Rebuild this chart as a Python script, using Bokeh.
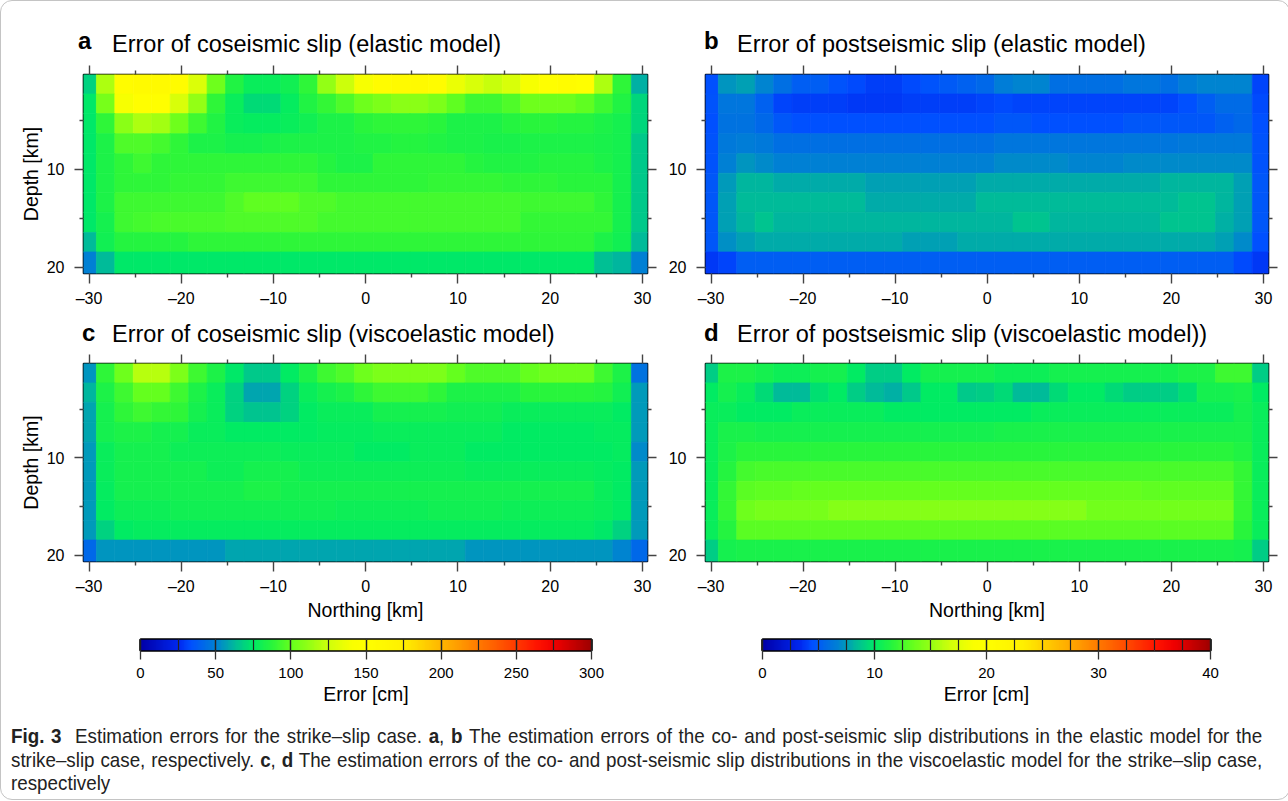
import numpy as np
from bokeh.plotting import figure
from bokeh.models import (Range1d, LinearColorMapper, FixedTicker, LinearAxis, Div, ColumnDataSource,
                          CustomLabelingPolicy)
from bokeh.layouts import column, row
from bokeh.embed import file_html
from bokeh.resources import INLINE

# ---------------- data ----------------
north_km = [-30.2, -28.2, -26.2, -24.2, -22.2, -20.2, -18.2, -16.2, -14.2, -12.2, -10.2, -8.2, -6.2, -4.2,
            -2.2, -0.2, 1.8, 3.8, 5.8, 7.8, 9.8, 11.8, 13.8, 15.8, 17.8, 19.8, 21.8, 23.8, 25.8, 27.8, 29.8]
depth_edges_km = [0.3, 2.3, 4.3, 6.35, 8.4, 10.4, 12.4, 14.4, 16.45, 18.45, 20.65]
cell_km = 2.0
x_ticks = [-30, -20, -10, 0, 10, 20, 30]
x_minor = [-25, -15, -5, 5, 15, 25]
x_tick_labels = {-30: "\u201330", -20: "\u201320", -10: "\u201310", 0: "0", 10: "10", 20: "20", 30: "30"}
y_ticks = [10, 20]
y_minor = [5, 15]
cb_co_ticks = [0, 50, 100, 150, 200, 250, 300]
cb_co_bounds = [0, 25, 50, 75, 100, 125, 150, 175, 200, 225, 250, 275, 300]
cb_post_ticks = [0, 10, 20, 30, 40]
cb_post_bounds = [0, 2.5, 5, 7.5, 10, 12.5, 15, 17.5, 20, 22.5, 25, 27.5, 30, 32.5, 35, 37.5, 40]

# (a) coseismic, elastic [cm]
err_a = [
    [68, 118, 155, 158, 158, 155, 130, 102, 85, 78, 78, 80, 88, 112, 125, 140, 155, 158, 158, 155, 135, 128, 124, 128, 140, 152, 155, 152, 118, 88, 60],
    [74, 105, 140, 152, 152, 128, 112, 88, 78, 71, 71, 77, 85, 90, 96, 102, 106, 110, 110, 106, 99, 92, 92, 96, 102, 102, 102, 99, 92, 85, 70],
    [74, 88, 110, 118, 116, 102, 92, 85, 78, 77, 77, 78, 80, 84, 84, 87, 88, 88, 88, 87, 84, 84, 84, 86, 87, 87, 86, 86, 84, 81, 70],
    [74, 84, 96, 96, 93, 88, 84, 84, 82, 82, 83, 84, 84, 84, 84, 85, 85, 86, 86, 85, 84, 84, 83, 83, 84, 84, 84, 84, 83, 81, 66],
    [74, 84, 88, 92, 88, 88, 88, 88, 88, 88, 88, 88, 88, 86, 84, 84, 88, 88, 88, 88, 88, 86, 85, 85, 85, 86, 86, 86, 84, 81, 66],
    [74, 84, 88, 88, 88, 90, 90, 90, 92, 92, 92, 92, 92, 88, 88, 88, 88, 88, 88, 90, 90, 90, 90, 88, 88, 88, 87, 87, 87, 81, 66],
    [74, 84, 92, 92, 92, 92, 92, 92, 95, 99, 99, 99, 95, 95, 93, 93, 93, 93, 93, 93, 93, 93, 93, 93, 92, 92, 92, 92, 88, 81, 66],
    [74, 82, 92, 93, 94, 94, 94, 94, 96, 96, 96, 96, 96, 93, 93, 93, 93, 93, 93, 93, 93, 93, 93, 93, 90, 90, 90, 90, 90, 81, 66],
    [63, 80, 86, 86, 86, 86, 88, 88, 88, 88, 88, 88, 88, 88, 88, 88, 88, 88, 88, 88, 88, 88, 88, 88, 88, 88, 88, 88, 84, 80, 63],
    [50, 63, 74, 74, 74, 74, 74, 74, 74, 74, 74, 74, 74, 74, 74, 74, 74, 74, 74, 74, 74, 74, 74, 74, 74, 74, 74, 74, 64, 62, 50],
]
# (b) postseismic, elastic [cm]
err_b = [
    [4.4, 7.2, 7.6, 6.8, 5.8, 5.0, 5.0, 4.6, 4.3, 4.0, 4.0, 4.3, 4.6, 4.9, 5.3, 5.6, 6.5, 6.8, 6.8, 5.8, 5.8, 5.8, 5.8, 6.1, 6.1, 5.8, 6.5, 6.8, 6.8, 6.8, 4.2],
    [4.6, 6.1, 6.1, 5.3, 4.1, 4.0, 4.0, 4.0, 3.9, 3.8, 3.8, 4.0, 4.0, 4.0, 4.0, 4.1, 4.3, 4.2, 4.2, 4.2, 4.2, 4.2, 4.2, 4.2, 4.2, 4.2, 4.4, 5.1, 5.7, 5.7, 4.3],
    [4.5, 6.0, 6.0, 5.6, 4.7, 4.5, 4.5, 4.5, 4.5, 4.5, 4.5, 4.5, 4.5, 4.5, 4.5, 4.5, 4.7, 4.7, 4.5, 4.5, 4.5, 4.5, 4.5, 4.7, 4.7, 4.7, 4.7, 4.7, 5.2, 5.6, 4.4],
    [4.6, 6.3, 6.5, 6.3, 5.8, 5.8, 5.8, 5.8, 5.8, 5.8, 5.8, 5.8, 5.8, 5.8, 5.8, 5.8, 6.1, 6.1, 6.1, 6.1, 6.1, 6.1, 6.1, 6.1, 6.1, 6.1, 6.3, 6.3, 6.3, 6.3, 4.6],
    [4.6, 6.7, 7.3, 7.0, 6.7, 6.7, 6.7, 6.7, 6.7, 6.7, 6.7, 6.7, 6.7, 6.7, 6.7, 6.7, 7.0, 7.0, 7.0, 7.0, 6.8, 6.8, 6.8, 7.0, 7.0, 7.0, 7.0, 7.0, 7.0, 7.0, 4.6],
    [4.8, 7.4, 8.2, 8.2, 7.9, 7.9, 7.9, 7.9, 7.9, 7.5, 7.5, 7.5, 7.5, 7.5, 7.5, 7.9, 7.9, 7.9, 7.9, 7.9, 7.9, 7.9, 7.9, 7.9, 7.9, 8.2, 8.2, 8.2, 8.2, 7.5, 4.8],
    [4.8, 7.5, 8.4, 8.4, 8.4, 8.4, 8.4, 8.4, 8.4, 7.9, 7.9, 7.9, 7.9, 7.9, 7.9, 8.4, 8.4, 8.4, 8.4, 8.4, 8.4, 8.4, 8.4, 8.4, 8.4, 8.4, 8.6, 8.6, 8.2, 7.5, 4.8],
    [4.8, 7.5, 8.2, 8.7, 8.2, 8.2, 8.2, 8.2, 8.2, 8.2, 8.2, 8.2, 8.2, 8.2, 8.2, 8.2, 8.2, 8.7, 8.7, 8.2, 8.2, 8.2, 8.2, 8.2, 8.2, 8.6, 8.6, 8.6, 8.0, 7.5, 4.8],
    [4.8, 7.1, 7.5, 7.9, 7.9, 7.9, 7.9, 7.9, 7.9, 7.9, 7.9, 7.5, 7.5, 7.5, 7.9, 7.9, 7.9, 7.9, 7.9, 7.9, 7.9, 7.9, 7.9, 7.9, 7.9, 7.9, 7.9, 7.9, 7.5, 6.9, 4.5],
    [3.8, 4.2, 5.1, 5.1, 5.1, 5.1, 5.1, 5.1, 5.1, 5.1, 5.1, 5.1, 5.1, 5.1, 5.1, 5.1, 5.1, 5.1, 5.1, 5.1, 5.1, 5.1, 5.1, 5.1, 5.1, 5.1, 5.1, 5.1, 5.0, 4.3, 3.8],
]
# (c) coseismic, viscoelastic [cm]
err_c = [
    [54, 88, 103, 120, 120, 106, 92, 84, 74, 66, 66, 76, 84, 92, 96, 103, 106, 106, 106, 106, 100, 96, 96, 96, 100, 103, 103, 103, 92, 84, 45],
    [62, 84, 92, 100, 100, 92, 84, 78, 69, 58, 58, 69, 78, 81, 84, 88, 92, 92, 92, 88, 84, 84, 84, 84, 87, 87, 87, 87, 86, 80, 56],
    [58, 81, 88, 92, 90, 88, 82, 78, 68, 65, 65, 68, 75, 78, 78, 78, 81, 81, 81, 81, 80, 80, 80, 78, 78, 78, 78, 78, 78, 76, 56],
    [58, 81, 84, 84, 82, 81, 78, 78, 76, 76, 76, 76, 76, 77, 77, 77, 78, 78, 78, 78, 78, 78, 78, 76, 76, 76, 76, 76, 77, 77, 56],
    [56, 78, 81, 81, 81, 79, 79, 79, 79, 79, 79, 78, 78, 78, 78, 76, 76, 76, 78, 78, 78, 75, 75, 75, 75, 75, 75, 75, 75, 77, 52],
    [56, 78, 81, 81, 82, 82, 82, 79, 79, 82, 82, 82, 79, 79, 79, 79, 79, 79, 79, 79, 79, 78, 78, 78, 78, 78, 78, 78, 77, 75, 56],
    [56, 77, 81, 81, 81, 81, 81, 81, 82, 84, 84, 82, 82, 82, 81, 81, 81, 81, 81, 82, 82, 82, 81, 81, 81, 81, 81, 81, 78, 75, 56],
    [56, 76, 79, 79, 79, 80, 80, 80, 80, 80, 80, 80, 80, 80, 79, 79, 79, 79, 79, 80, 80, 80, 80, 79, 79, 79, 79, 79, 78, 75, 56],
    [56, 68, 75, 77, 77, 77, 77, 77, 77, 77, 77, 77, 77, 77, 77, 77, 77, 77, 77, 77, 77, 77, 77, 77, 77, 77, 77, 77, 74, 68, 56],
    [42, 54, 54, 54, 54, 54, 54, 54, 58, 58, 58, 58, 58, 58, 58, 58, 58, 58, 58, 58, 58, 54, 54, 54, 54, 54, 54, 54, 54, 51, 42],
]
# (d) postseismic, viscoelastic [cm]
err_d = [
    [9.0, 11.2, 11.2, 10.8, 10.5, 10.5, 10.8, 10.8, 10.1, 9.0, 9.0, 10.1, 10.8, 10.8, 10.8, 10.8, 10.5, 10.5, 10.5, 10.8, 10.8, 10.8, 10.8, 10.8, 10.8, 10.8, 11.2, 11.2, 12.3, 12.3, 9.0],
    [10.1, 10.8, 10.4, 9.4, 8.4, 8.4, 9.6, 10.1, 9.0, 8.3, 8.0, 8.8, 10.1, 10.1, 8.8, 9.0, 9.4, 8.4, 8.4, 9.4, 10.1, 10.1, 9.4, 9.0, 9.0, 9.0, 9.6, 10.8, 10.8, 11.0, 10.1],
    [10.4, 10.4, 10.1, 10.1, 10.1, 10.4, 10.4, 10.4, 10.4, 10.4, 10.1, 10.1, 10.1, 10.1, 10.1, 10.1, 10.1, 10.1, 10.4, 10.4, 10.4, 10.4, 10.4, 10.4, 10.4, 10.4, 10.4, 10.4, 10.4, 10.8, 10.4],
    [10.4, 11.0, 11.0, 10.8, 10.8, 10.8, 10.8, 10.8, 10.8, 10.8, 10.8, 10.8, 10.8, 10.8, 10.8, 10.8, 11.0, 11.0, 11.0, 11.0, 11.0, 11.0, 11.0, 11.0, 11.0, 11.0, 11.0, 11.0, 11.0, 11.0, 10.4],
    [10.4, 11.2, 11.6, 11.6, 11.6, 11.6, 11.6, 11.6, 11.6, 11.6, 11.6, 11.6, 11.6, 11.6, 11.6, 11.6, 11.6, 11.6, 11.6, 11.6, 11.6, 11.6, 11.6, 11.6, 11.6, 11.6, 11.6, 11.6, 11.6, 11.4, 10.4],
    [10.4, 11.5, 12.4, 12.6, 12.6, 12.6, 12.6, 12.6, 12.6, 12.6, 12.6, 12.6, 12.6, 12.6, 12.6, 12.6, 12.6, 12.6, 12.6, 12.6, 12.6, 12.6, 12.6, 12.6, 12.6, 12.6, 12.6, 12.6, 12.6, 12.0, 10.4],
    [10.4, 12.0, 13.0, 13.2, 13.2, 13.4, 13.4, 13.4, 13.4, 13.4, 13.4, 13.4, 13.4, 13.4, 13.4, 13.4, 13.4, 13.4, 13.4, 13.4, 13.4, 13.4, 13.4, 13.4, 13.2, 13.2, 13.2, 13.2, 13.2, 12.0, 10.4],
    [10.4, 12.0, 13.6, 14.0, 14.0, 14.0, 14.0, 14.4, 14.4, 14.4, 14.4, 14.4, 14.4, 14.4, 14.4, 14.4, 14.4, 14.4, 14.4, 14.4, 14.4, 13.9, 13.9, 13.9, 13.9, 13.9, 13.9, 13.9, 13.9, 12.0, 10.4],
    [10.4, 11.5, 13.0, 13.0, 13.0, 13.0, 13.0, 13.0, 13.0, 13.0, 13.0, 13.0, 13.0, 13.0, 13.0, 13.0, 13.0, 13.0, 13.0, 13.0, 13.0, 13.0, 13.0, 13.0, 13.0, 13.0, 13.0, 13.0, 13.0, 11.6, 10.4],
    [9.0, 10.8, 11.0, 11.0, 11.0, 11.0, 11.0, 11.0, 11.0, 11.0, 11.0, 11.0, 11.0, 11.0, 11.0, 11.0, 11.0, 11.0, 11.0, 11.0, 11.0, 11.0, 11.0, 11.0, 11.0, 11.0, 11.0, 11.0, 11.0, 10.8, 9.0],
]
titles = ["Error of coseismic slip (elastic model)",
          "Error of postseismic slip (elastic model)",
          "Error of coseismic slip (viscoelastic model)",
          "Error of postseismic slip (viscoelastic model))"]
letters = ["a", "b", "c", "d"]
vmax_co = 300
vmax_post = 40
caption_lines = [
    "<b>Fig.&nbsp;3</b>&nbsp;&nbsp;Estimation errors for the strike\u2013slip case. <b>a</b>, <b>b</b> "
    "The estimation errors of the co- and post-seismic slip distributions in the elastic model for the",
    "strike\u2013slip case, respectively. <b>c</b>, <b>d</b> The estimation errors of the co- and "
    "post-seismic slip distributions in the viscoelastic model for the strike\u2013slip case,",
    "respectively",
]

# ---------------- style ----------------
FONT = "Liberation Sans"
X_RANGE = (-30.6, 30.55)
cmap_stops = [0.0, 0.083, 0.11, 0.167, 0.21, 0.25, 0.29, 0.333, 0.375, 0.42, 0.47, 0.5,
              0.583, 0.64, 0.70, 0.76, 0.82, 0.88, 0.92, 1.0]
cmap_hex = ["#0000aa", "#0028f0", "#0050ff", "#0082d2", "#00be96", "#00eb64", "#28f53c", "#64ff1e",
            "#96ff14", "#d2ff0a", "#faff00", "#ffff00", "#fff000", "#ffc800", "#ffa000", "#ff7300",
            "#ff4600", "#ff1400", "#f00000", "#a00000"]


def build_palette(n=256):
    rgb = np.array([[int(h[i:i + 2], 16) for i in (1, 3, 5)] for h in cmap_hex], dtype=float)
    f = np.linspace(0, 1, n)
    chans = [np.interp(f, cmap_stops, rgb[:, k]) for k in range(3)]
    return ["#%02x%02x%02x" % (int(round(r)), int(round(g)), int(round(b))) for r, g, b in zip(*chans)]


PALETTE = build_palette()
TICK_COLOR = "#444444"
HIDE_LABELS = "for (let i = 0; i < indices.size; i++) { indices.unset(i) }\nreturn indices"


def style_axis(ax, labels=True, font_size="16px", standoff=6):
    ax.axis_line_color = None
    ax.major_tick_line_color = TICK_COLOR
    ax.major_tick_line_width = 1.4
    ax.major_tick_out = 9
    ax.major_tick_in = 0
    ax.minor_tick_line_color = TICK_COLOR
    ax.minor_tick_line_width = 1.4
    ax.minor_tick_out = 4
    ax.minor_tick_in = 0
    ax.major_label_text_font = FONT
    ax.major_label_text_color = "black"
    ax.axis_label_text_font = FONT
    ax.axis_label_text_font_style = "normal"
    ax.axis_label_text_font_size = "19.5px"
    ax.axis_label_text_color = "black"
    if labels:
        ax.major_label_text_font_size = font_size
        ax.major_label_standoff = standoff
    else:
        ax.major_label_text_font_size = "1px"
        ax.major_label_standoff = 0
        ax.major_label_policy = CustomLabelingPolicy(code=HIDE_LABELS)


def make_panel(vals, vmax, width, height, b_left, b_right, b_top, b_bottom, ylabel, xlabel):
    y_rng = Range1d(depth_edges_km[-1], depth_edges_km[0])
    p = figure(width=width, height=height, x_range=Range1d(*X_RANGE), y_range=y_rng,
               output_backend="svg", toolbar_location=None, x_axis_location=None, y_axis_location=None,
               min_border_left=b_left, min_border_right=b_right, min_border_top=b_top,
               min_border_bottom=b_bottom, title=None)
    mapper = LinearColorMapper(palette=PALETTE, low=0, high=vmax)
    left, right, top, bottom, val = [], [], [], [], []
    for r, rowvals in enumerate(vals):
        for c, v in enumerate(rowvals):
            left.append(north_km[c] - cell_km / 2)
            right.append(north_km[c] + cell_km / 2)
            top.append(depth_edges_km[r])
            bottom.append(depth_edges_km[r + 1])
            val.append(v)
    src = ColumnDataSource(dict(left=left, right=right, top=top, bottom=bottom, val=val))
    p.quad(left="left", right="right", top="top", bottom="bottom", source=src,
           fill_color={"field": "val", "transform": mapper},
           line_color={"field": "val", "transform": mapper}, line_width=0.7)

    ax_b = LinearAxis(ticker=FixedTicker(ticks=x_ticks, minor_ticks=x_minor), major_label_overrides=x_tick_labels)
    style_axis(ax_b, True, "16px", 6)
    ax_b.major_tick_out = 10
    if xlabel:
        ax_b.axis_label = xlabel
        ax_b.axis_label_standoff = 1
    p.add_layout(ax_b, "below")
    ax_t = LinearAxis(ticker=FixedTicker(ticks=x_ticks, minor_ticks=x_minor))
    style_axis(ax_t, False)
    p.add_layout(ax_t, "above")
    ax_l = LinearAxis(ticker=FixedTicker(ticks=y_ticks, minor_ticks=y_minor))
    style_axis(ax_l, True, "16px", 10)
    if ylabel:
        ax_l.axis_label = ylabel
        ax_l.axis_label_standoff = 2
    p.add_layout(ax_l, "left")
    ax_r = LinearAxis(ticker=FixedTicker(ticks=y_ticks, minor_ticks=y_minor))
    style_axis(ax_r, False)
    p.add_layout(ax_r, "right")

    p.outline_line_color = "black"
    p.outline_line_width = 1.6
    p.outline_line_alpha = 1.0
    p.background_fill_color = "white"
    p.border_fill_color = "white"
    return p


def title_div(letter, title, width, height, l_left, l_top, t_left, t_top):
    html = ('<div style="position:relative;width:%dpx;height:%dpx;font-family:\'Liberation Sans\',Arial,sans-serif;color:#000;">'
            '<span style="position:absolute;left:%dpx;top:%.1fpx;font-weight:bold;font-size:24px;line-height:1;white-space:nowrap;">%s</span>'
            '<span style="position:absolute;left:%dpx;top:%.1fpx;font-size:23.5px;line-height:1;white-space:nowrap;">%s</span></div>'
            % (width, height, l_left, l_top, letter, t_left, t_top, title))
    return Div(text=html, width=width, height=height, margin=0)


def make_colorbar(vmax, ticks, bounds, width, b_left, b_right):
    p = figure(width=width, height=95, x_range=Range1d(0, vmax), y_range=Range1d(0, 1),
               output_backend="svg", toolbar_location=None, x_axis_location=None, y_axis_location=None,
               min_border_left=b_left, min_border_right=b_right, min_border_top=13,
               min_border_bottom=71, title=None)
    mapper = LinearColorMapper(palette=PALETTE, low=0, high=vmax)
    grad = np.linspace(0, vmax, 900)[None, :]
    p.image(image=[grad], x=0, y=0, dw=vmax, dh=1, color_mapper=mapper)
    ax = LinearAxis(ticker=FixedTicker(ticks=ticks, minor_ticks=bounds), axis_label="Error [cm]")
    style_axis(ax, True, "15px", 8)
    ax.major_tick_in = 11
    ax.major_tick_out = 9
    ax.major_tick_line_color = "#333333"
    ax.major_tick_line_width = 1.3
    ax.minor_tick_in = 11
    ax.minor_tick_out = 0
    ax.minor_tick_line_color = "#222222"
    ax.minor_tick_line_width = 1.2
    ax.axis_label_standoff = 2
    p.add_layout(ax, "below")
    p.outline_line_color = "black"
    p.outline_line_width = 2.6
    p.outline_line_alpha = 1.0
    p.border_fill_color = "white"
    return p


# row 1: titles (0-55) + panels (55-315); row 2: titles (315-348) + panels (348-625)
ta = title_div(letters[0], titles[0], 660, 55, 77, 28.0, 111, 31.8)
tb = title_div(letters[1], titles[1], 628, 55, 43, 28.0, 76, 31.8)
tc = title_div(letters[2], titles[2], 660, 33, 81, 4.7, 111, 6.8)
td = title_div(letters[3], titles[3], 628, 33, 43, 4.7, 76, 6.8)

pa = make_panel(err_a, vmax_co, 660, 260, 82, 14, 18, 43, "Depth [km]", None)
pb = make_panel(err_b, vmax_post, 628, 260, 44, 21, 18, 43, None, None)
pc = make_panel(err_c, vmax_co, 660, 277, 82, 14, 14, 65, "Depth [km]", "Northing [km]")
pd = make_panel(err_d, vmax_post, 628, 277, 44, 21, 14, 65, None, "Northing [km]")

cba = make_colorbar(vmax_co, cb_co_ticks, cb_co_bounds, 660, 139, 70)
cbb = make_colorbar(vmax_post, cb_post_ticks, cb_post_bounds, 628, 101, 79)

CAP_SCALE = 0.895
CAP_INNER = int(1252 / CAP_SCALE)
just = "text-align:justify;text-align-last:justify;"
caption_html = (
    '<div style="transform:scaleX(%.3f);transform-origin:0 0;width:%dpx;">' % (CAP_SCALE, CAP_INNER)
    + '<div style="%s">%s</div>' % (just, caption_lines[0])
    + '<div style="%s">%s</div>' % (just, caption_lines[1])
    + '<div style="text-align:left;">%s</div>' % caption_lines[2]
    + "</div>"
)
caption = Div(text=caption_html, width=1280, height=78, margin=0,
              styles={"font-family": "'Liberation Sans', sans-serif",
                      "font-size": "21px", "line-height": "23.5px", "color": "#222",
                      "padding-left": "10px", "padding-top": "3px", "overflow": "hidden"})

layout = column(row(ta, tb), row(pa, pb), row(tc, td), row(pc, pd), row(cba, cbb), caption,
                styles={"border": "1px solid #c4c4c4", "border-radius": "12px"})

html = file_html(layout, INLINE)
html = html.replace("<head>", "<head><style>body{margin:0;padding:0;overflow:hidden;}</style>", 1)
open("out.html", "w").write(html)
